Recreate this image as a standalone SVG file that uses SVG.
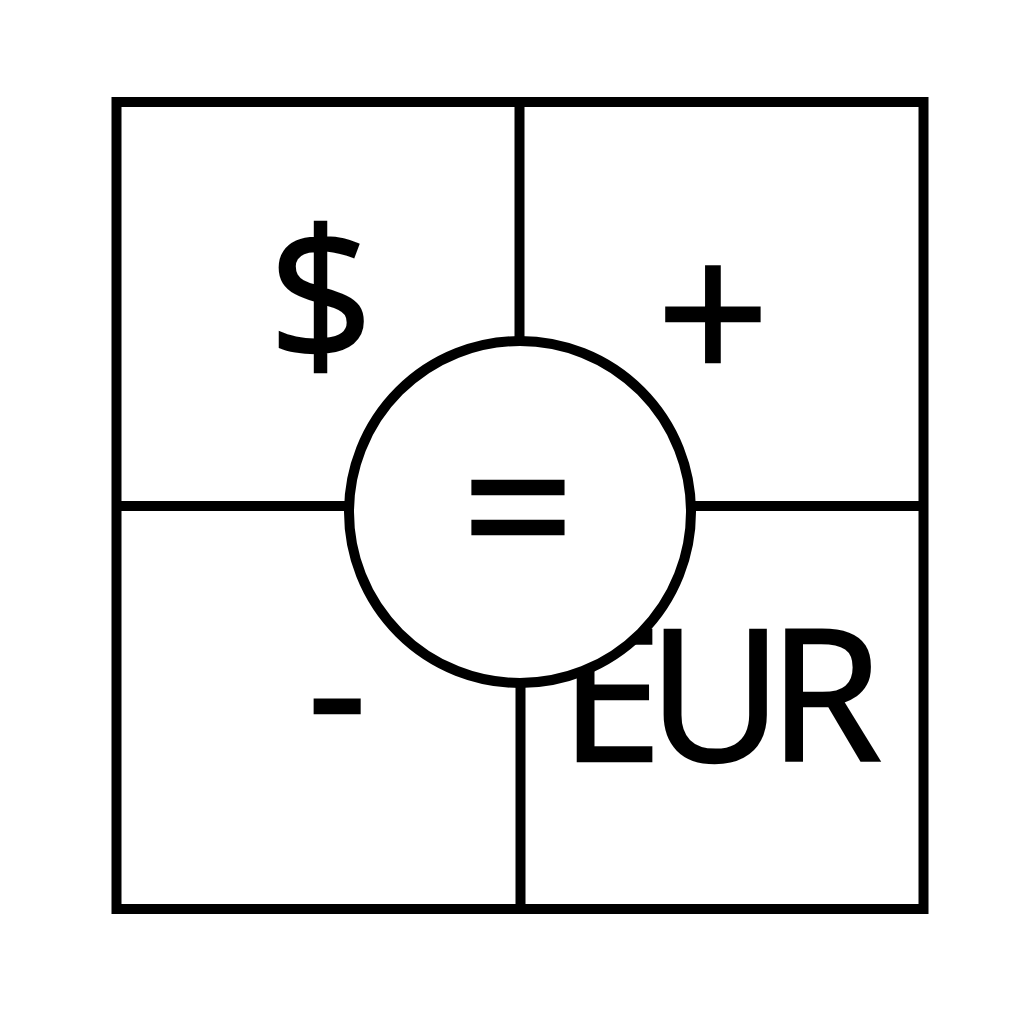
<svg xmlns="http://www.w3.org/2000/svg" width="1024" height="1024" viewBox="0 0 1024 1024">
<style>
.ln{stroke:#000;stroke-width:10;fill:none}
.t{font-family:"Open Sans","Liberation Sans",sans-serif;font-size:184px;fill:#000;stroke:#000;stroke-width:2.5}
</style>
<rect width="1024" height="1024" fill="#fff"/>
<g id="connectors">
<line class="ln" x1="519.5" y1="102" x2="519.5" y2="512"/>
<line class="ln" x1="520.5" y1="512" x2="520.5" y2="909"/>
<line class="ln" x1="116.5" y1="506" x2="923.5" y2="506"/>
</g>
<g id="frame"><rect class="ln" x="116.5" y="102" width="807" height="807"/></g>
<g id="q1"><text class="t" x="321" y="361" text-anchor="middle">$</text></g>
<g id="q2"><text class="t" x="713" y="384" text-anchor="middle" style="font-size:198px">+</text></g>
<g id="q3"><text class="t" x="337" y="756" text-anchor="middle">-</text></g>
<g id="q4"><text class="t" x="560" y="761" letter-spacing="-14">EUR</text></g>
<g id="center">
<circle cx="520" cy="512" r="171" fill="#fff" stroke="#000" stroke-width="10"/>
<text class="t" x="518" y="577" text-anchor="middle" style="font-size:198px">=</text>
</g>
</svg>
